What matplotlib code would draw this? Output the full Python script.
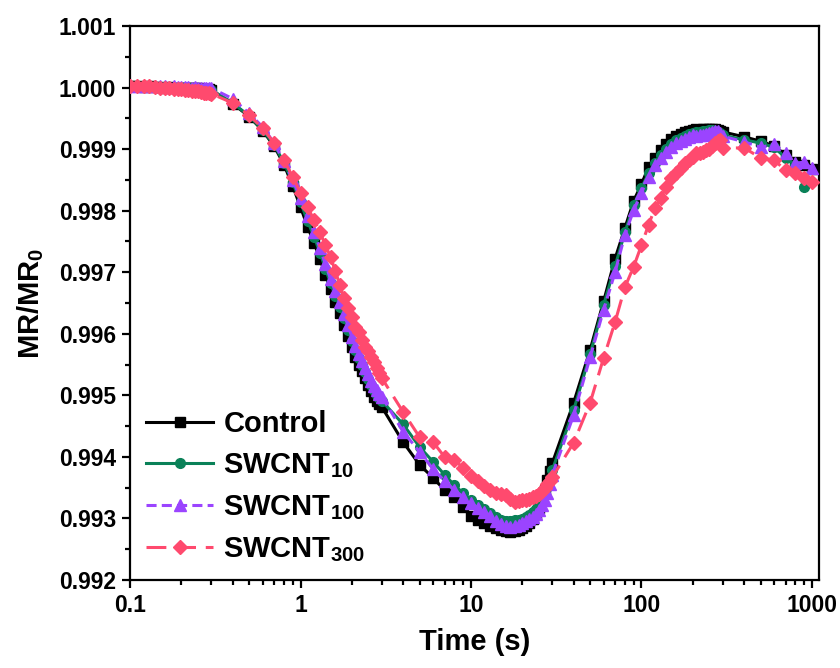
import matplotlib
matplotlib.use("Agg")
import matplotlib.pyplot as plt
from matplotlib.ticker import FixedLocator, FixedFormatter, MultipleLocator, LogLocator, NullFormatter

plt.rcParams['font.family'] = ['Liberation Sans', 'DejaVu Sans']
plt.rcParams['font.weight'] = 'bold'
plt.rcParams['mathtext.fontset'] = 'custom'
plt.rcParams['mathtext.rm'] = 'Liberation Sans:bold'
plt.rcParams['mathtext.it'] = 'Liberation Sans:bold'
plt.rcParams['mathtext.bf'] = 'Liberation Sans:bold'

time = [0.10, 0.11, 0.12, 0.13, 0.14, 0.15, 0.16, 0.17, 0.18, 0.19, 0.20,
        0.21, 0.22, 0.23, 0.24, 0.25, 0.26, 0.27, 0.28, 0.29, 0.30,
        0.4, 0.5, 0.6, 0.7, 0.8, 0.9, 1.0,
        1.1, 1.2, 1.3, 1.4, 1.5, 1.6, 1.7, 1.8, 1.9, 2.0,
        2.1, 2.2, 2.3, 2.4, 2.5, 2.6, 2.7, 2.8, 2.9, 3.0,
        4, 5, 6, 7, 8, 9, 10,
        11, 12, 13, 14, 15, 16, 17, 18, 19, 20,
        21, 22, 23, 24, 25, 26, 27, 28, 29, 30,
        40, 50, 60, 70, 80, 90, 100,
        110, 120, 130, 140, 150, 160, 170, 180, 190, 200,
        210, 220, 230, 240, 250, 260, 270, 280, 290, 300,
        400, 500, 600, 700, 800, 900, 1000]

control = [1.00002, 1.00002, 1.00001, 1.00002, 1.00001, 1.00001, 1.00000, 1.00001, 1.00000, 1.00000, 1.00000,
           0.99999, 1.00000, 0.99999, 0.99999, 0.99999, 0.99998, 0.99998, 0.99998, 0.99997, 0.99996,
           0.99974, 0.99953, 0.99930, 0.99905, 0.99875, 0.99840, 0.99806,
           0.99774, 0.99748, 0.99722, 0.99696, 0.99672, 0.99652, 0.99634, 0.99615, 0.99597, 0.99578,
           0.99563, 0.99550, 0.99539, 0.99528, 0.99517, 0.99507, 0.99498, 0.99491, 0.99486, 0.99481,
           0.99424, 0.99387, 0.99366, 0.99346, 0.99335, 0.99319, 0.99304,
           0.99298, 0.99293, 0.99288, 0.99285, 0.99281, 0.99280, 0.99278, 0.99280, 0.99281, 0.99285,
           0.99288, 0.99293, 0.99299, 0.99307, 0.99317, 0.99330, 0.99346, 0.99363, 0.99377, 0.99390,
           0.99488, 0.99574, 0.99653, 0.99722, 0.99772, 0.99816, 0.99843,
           0.99871, 0.99886, 0.99899, 0.99908, 0.99916, 0.99921, 0.99925, 0.99928, 0.99930, 0.99931,
           0.99932, 0.99931, 0.99932, 0.99932, 0.99933, 0.99932, 0.99932, 0.99931, 0.99930, 0.99928,
           0.99920, 0.99913, 0.99905, 0.99891, 0.99879, 0.99874, 0.99868]

swcnt10 = [1.00002, 1.00001, 1.00002, 1.00001, 1.00001, 1.00000, 1.00001, 1.00000, 1.00000, 1.00000, 0.99999,
           1.00000, 0.99999, 0.99999, 0.99999, 0.99998, 0.99998, 0.99998, 0.99997, 0.99997, 0.99996,
           0.99975, 0.99954, 0.99931, 0.99907, 0.99878, 0.99846, 0.99814,
           0.99783, 0.99758, 0.99732, 0.99706, 0.99682, 0.99662, 0.99644, 0.99625, 0.99607, 0.99588,
           0.99573, 0.99560, 0.99549, 0.99538, 0.99527, 0.99517, 0.99508, 0.99501, 0.99496, 0.99491,
           0.99453, 0.99416, 0.99392, 0.99371, 0.99354, 0.99341, 0.99330,
           0.99322, 0.99315, 0.99309, 0.99302, 0.99297, 0.99296, 0.99296, 0.99297, 0.99297, 0.99299,
           0.99302, 0.99306, 0.99310, 0.99315, 0.99322, 0.99330, 0.99340, 0.99351, 0.99364, 0.99379,
           0.99476, 0.99567, 0.99647, 0.99710, 0.99765, 0.99809, 0.99837,
           0.99861, 0.99877, 0.99890, 0.99900, 0.99908, 0.99915, 0.99918, 0.99921, 0.99925, 0.99926,
           0.99928, 0.99928, 0.99929, 0.99929, 0.99931, 0.99931, 0.99929, 0.99928, 0.99926, 0.99923,
           0.99915, 0.99910, 0.99903, 0.99886, 0.99874, 0.99839]

swcnt100 = [1.00003, 1.00003, 1.00002, 1.00003, 1.00002, 1.00002, 1.00002, 1.00001, 1.00002, 1.00001, 1.00001,
            1.00001, 1.00001, 1.00000, 1.00001, 1.00000, 1.00000, 1.00000, 0.99999, 0.99999, 0.99999,
            0.99982, 0.99958, 0.99936, 0.99910, 0.99880, 0.99850, 0.99820,
            0.99791, 0.99765, 0.99739, 0.99713, 0.99689, 0.99669, 0.99651, 0.99632, 0.99614, 0.99595,
            0.99580, 0.99567, 0.99556, 0.99545, 0.99534, 0.99524, 0.99515, 0.99508, 0.99503, 0.99498,
            0.99441, 0.99408, 0.99380, 0.99361, 0.99346, 0.99335, 0.99325,
            0.99317, 0.99311, 0.99304, 0.99296, 0.99291, 0.99288, 0.99286, 0.99288, 0.99289, 0.99293,
            0.99296, 0.99299, 0.99302, 0.99307, 0.99314, 0.99322, 0.99330, 0.99341, 0.99356, 0.99371,
            0.99468, 0.99562, 0.99639, 0.99700, 0.99761, 0.99801, 0.99829,
            0.99855, 0.99874, 0.99886, 0.99895, 0.99903, 0.99910, 0.99913, 0.99916, 0.99920, 0.99923,
            0.99921, 0.99923, 0.99923, 0.99925, 0.99926, 0.99928, 0.99929, 0.99929, 0.99926, 0.99921,
            0.99912, 0.99903, 0.99908, 0.99894, 0.99877, 0.99879, 0.99869]

swcnt300 = [1.00003, 1.00002, 1.00003, 1.00002, 1.00001, 1.00000, 1.00000, 0.99999, 0.99998, 0.99998, 0.99997,
            0.99996, 0.99996, 0.99995, 0.99994, 0.99994, 0.99993, 0.99992, 0.99992, 0.99991, 0.99990,
            0.99975, 0.99955, 0.99934, 0.99910, 0.99882, 0.99855, 0.99829,
            0.99806, 0.99785, 0.99765, 0.99744, 0.99725, 0.99702, 0.99679, 0.99658, 0.99642, 0.99627,
            0.99611, 0.99603, 0.99590, 0.99579, 0.99572, 0.99562, 0.99554, 0.99545, 0.99536, 0.99528,
            0.99473, 0.99432, 0.99424, 0.99400, 0.99395, 0.99382, 0.99369,
            0.99361, 0.99353, 0.99346, 0.99341, 0.99340, 0.99338, 0.99332, 0.99327, 0.99329, 0.99330,
            0.99330, 0.99332, 0.99335, 0.99337, 0.99340, 0.99345, 0.99349, 0.99356, 0.99361, 0.99367,
            0.99423, 0.99488, 0.99561, 0.99619, 0.99676, 0.99709, 0.99744,
            0.99777, 0.99804, 0.99821, 0.99839, 0.99853, 0.99861, 0.99869, 0.99877, 0.99882, 0.99887,
            0.99894, 0.99894, 0.99895, 0.99899, 0.99900, 0.99905, 0.99910, 0.99913, 0.99915, 0.99902,
            0.99902, 0.99886, 0.99882, 0.99866, 0.99861, 0.99853, 0.99847]

labels = ['Control', 'SWCNT$_{10}$', 'SWCNT$_{100}$', 'SWCNT$_{300}$']
xtick_vals = [0.1, 1, 10, 100, 1000]
xtick_labels = ['0.1', '1', '10', '100', '1000']
ytick_vals = [0.992, 0.993, 0.994, 0.995, 0.996, 0.997, 0.998, 0.999, 1.000, 1.001]
ytick_labels = ['0.992', '0.993', '0.994', '0.995', '0.996', '0.997', '0.998', '0.999', '1.000', '1.001']

fig = plt.figure(figsize=(8.4, 6.68), dpi=100)
ax = fig.add_axes([0.1548, 0.1317, 0.8202, 0.8293])

lw = 2.2
ax.plot(time, control, color='black', lw=lw, marker='s', ms=7, label=labels[0], zorder=2)
ax.plot(time[:len(swcnt10)], swcnt10, color='#0a8158', lw=lw, marker='o', ms=7, label=labels[1], zorder=3)
ax.plot(time, swcnt100, color='#9b44ff', lw=lw, marker='^', ms=8.5, ls=(0, (3.3, 1.7)), label=labels[2], zorder=4)
ax.plot(time, swcnt300, color='#ff4a6e', lw=lw, marker='D', ms=7.5, ls=(0, (6.5, 3.2)), label=labels[3], zorder=5)

ax.set_xscale('log')
ax.set_xlim(0.1, 1100)
ax.set_ylim(0.992, 1.001)

ax.xaxis.set_major_locator(FixedLocator(xtick_vals))
ax.xaxis.set_major_formatter(FixedFormatter(xtick_labels))
ax.xaxis.set_minor_locator(LogLocator(base=10, subs=[2, 3, 4, 5, 6, 7, 8, 9], numticks=20))
ax.xaxis.set_minor_formatter(NullFormatter())
ax.yaxis.set_major_locator(FixedLocator(ytick_vals))
ax.yaxis.set_major_formatter(FixedFormatter(ytick_labels))
ax.yaxis.set_minor_locator(MultipleLocator(0.0005))

ax.tick_params(which='both', direction='out', top=False, right=False, width=1.6)
ax.tick_params(which='major', length=6, labelsize=16.5, pad=4)
ax.tick_params(which='minor', length=3.5)
for lbl in ax.get_xticklabels() + ax.get_yticklabels():
    lbl.set_fontweight('bold')
for sp in ax.spines.values():
    sp.set_linewidth(1.6)

ax.set_xlabel('Time (s)', fontsize=21, fontweight='bold', labelpad=8)
ax.set_ylabel('MR/MR$_0$', fontsize=21, fontweight='bold', labelpad=9)

leg = ax.legend(loc='lower left', bbox_to_anchor=(0.0, 0.0), frameon=False,
                prop={'size': 21, 'weight': 'bold'}, handlelength=2.3,
                handletextpad=0.35, labelspacing=0.45, borderaxespad=0.15)

fig.savefig('out.png', dpi=100)
